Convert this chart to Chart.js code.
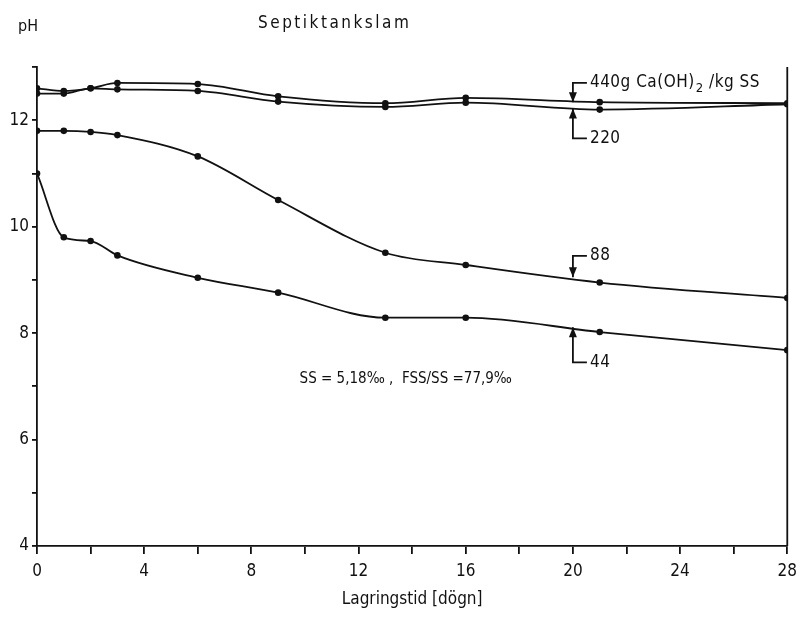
<!DOCTYPE html>
<html>
<head>
<meta charset="utf-8">
<title>Septiktankslam</title>
<script src="https://cdn.jsdelivr.net/npm/chart.js@4.4.1/dist/chart.umd.min.js"></script>
<style>
  html, body { margin: 0; padding: 0; background: #fff; }
  #wrap { width: 804px; height: 617px; position: relative; }
</style>
</head>
<body>
<div id="wrap"><canvas id="myChart" width="804" height="617"></canvas></div>
<script>
// lagringstid i dygn
var dagar = [0, 1, 2, 3, 6, 9, 13, 16, 21, 28];
// pH per kalkdos (g Ca(OH)2 / kg SS)
var ph440 = [12.6, 12.55, 12.6, 12.7, 12.68, 12.45, 12.32, 12.42, 12.34, 12.32];
var ph220 = [12.5, 12.5, 12.6, 12.58, 12.55, 12.35, 12.25, 12.33, 12.2, 12.3];
var ph88 = [11.8, 11.8, 11.78, 11.72, 11.32, 10.5, 9.51, 9.28, 8.95, 8.66];
var ph44 = [11.0, 9.8, 9.73, 9.46, 9.04, 8.76, 8.29, 8.29, 8.02, 7.68];
var xTicks = [0, 4, 8, 12, 16, 20, 24, 28];
var yTicks = [4, 6, 8, 10, 12];

var fnt = "'DejaVu Sans Condensed', 'DejaVu Sans', sans-serif";
var svart = '#111';

function punkter(arr) {
  return dagar.map(function (d, i) { return { x: d, y: arr[i] }; });
}

function serie(namn, arr) {
  return {
    label: namn,
    data: punkter(arr),
    borderColor: svart,
    backgroundColor: svart,
    borderWidth: 1.8,
    pointRadius: 3.3,
    pointBorderWidth: 0,
    cubicInterpolationMode: 'monotone',
    fill: false
  };
}

// etiketter med pilar, i dataenheter
var etiketter = [
  { text: '440g Ca(OH)', sub: '2', rest: ' /kg SS', x: 20, spets: 12.34, bas: 12.7 },
  { text: '220', x: 20, spets: 12.22, bas: 11.66 },
  { text: '88', x: 20, spets: 9.05, bas: 9.45 },
  { text: '44', x: 20, spets: 8.11, bas: 7.45 }
];

var ritaText = {
  id: 'ritaText',
  afterDraw: function (chart) {
    var ctx = chart.ctx;
    var xs = chart.scales.x, ys = chart.scales.y;
    var area = chart.chartArea;
    ctx.save();
    ctx.strokeStyle = svart;
    ctx.fillStyle = svart;
    ctx.lineWidth = 1.8;

    // högra axeln
    ctx.beginPath();
    ctx.moveTo(area.right, area.top);
    ctx.lineTo(area.right, area.bottom);
    ctx.stroke();

    // rubrik och pH
    ctx.font = '16px ' + fnt;
    ctx.textBaseline = 'middle';
    ctx.textAlign = 'left';
    ctx.fillText('pH', 18, 27);
    ctx.font = '17px ' + fnt;
    ctx.letterSpacing = '2.5px';
    ctx.fillText('Septiktankslam', 258, 24);
    ctx.letterSpacing = '0.5px';

    etiketter.forEach(function (e) {
      var px = xs.getPixelForValue(e.x);
      var pt = ys.getPixelForValue(e.spets);
      var pb = ys.getPixelForValue(e.bas);
      var dir = pb < pt ? 1 : -1;
      ctx.beginPath();
      ctx.moveTo(px + 14, pb);
      ctx.lineTo(px, pb);
      ctx.lineTo(px, pt);
      ctx.stroke();
      // pilspets
      ctx.beginPath();
      ctx.moveTo(px, pt);
      ctx.lineTo(px - 4, pt - dir * 10);
      ctx.lineTo(px + 4, pt - dir * 10);
      ctx.closePath();
      ctx.fill();
      ctx.textAlign = 'left';
      ctx.textBaseline = 'middle';
      ctx.font = '17px ' + fnt;
      var tx = px + 17;
      ctx.fillText(e.text, tx, pb);
      if (e.sub) {
        tx += ctx.measureText(e.text).width;
        ctx.font = '13px ' + fnt;
        ctx.fillText(e.sub, tx + 1, pb + 6);
        tx += ctx.measureText(e.sub).width + 1;
        ctx.font = '17px ' + fnt;
        ctx.fillText(e.rest, tx, pb);
      }
    });

    ctx.font = '15px ' + fnt;
    ctx.letterSpacing = '0px';
    ctx.textAlign = 'left';
    ctx.fillText('SS = 5,18‰ ,  FSS/SS =77,9‰', xs.getPixelForValue(9.8), ys.getPixelForValue(7.13));
    ctx.restore();
  }
};

var ctx = document.getElementById('myChart').getContext('2d');
var myChart = new Chart(ctx, {
  type: 'line',
  data: {
    datasets: [
      serie('440', ph440),
      serie('220', ph220),
      serie('88', ph88),
      serie('44', ph44)
    ]
  },
  options: {
    responsive: false,
    animation: false,
    devicePixelRatio: 1,
    layout: { padding: { top: 67, right: 13, left: 0, bottom: 0 } },
    plugins: {
      legend: { display: false },
      title: { display: false },
      tooltip: { enabled: false }
    },
    scales: {
      x: {
        type: 'linear',
        min: 0,
        max: 28,
        afterFit: function (s) { s.height = 71; },
        ticks: {
          stepSize: 2,
          autoSkip: false,
          maxRotation: 0,
          color: svart,
          font: { family: fnt, size: 17 },
          padding: 7,
          callback: function (v) { return xTicks.indexOf(v) >= 0 ? String(v) : ''; }
        },
        grid: { drawOnChartArea: false, drawTicks: true, tickLength: 8, color: svart, lineWidth: 1.8 },
        border: { display: true, color: svart, width: 1.8 },
        title: {
          display: true,
          text: 'Lagringstid [dögn]',
          color: svart,
          font: { family: fnt, size: 17 },
          padding: { top: 0, bottom: 7 }
        }
      },
      y: {
        min: 4,
        max: 13,
        afterFit: function (s) { s.width = 37; },
        ticks: {
          stepSize: 1,
          autoSkip: false,
          color: svart,
          font: { family: fnt, size: 17 },
          padding: 3,
          callback: function (v) { return yTicks.indexOf(v) >= 0 ? String(v) : ''; }
        },
        grid: { drawOnChartArea: false, drawTicks: true, tickLength: 5, color: svart, lineWidth: 1.8 },
        border: { display: true, color: svart, width: 1.8 }
      }
    }
  },
  plugins: [ritaText]
});
</script>
</body>
</html>
